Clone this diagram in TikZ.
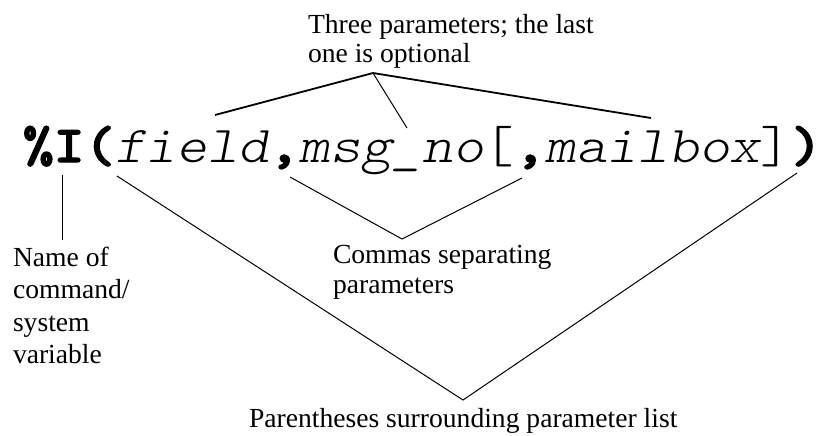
\documentclass[tikz,border=0pt]{standalone}
\usepackage{fontspec}
\setmainfont{Liberation Serif}
\newfontfamily\codefont{lmmonolt10-regular.otf}[FakeStretch=1.13]
\newfontfamily\codeboldfont{lmmonolt10-bold.otf}[FakeStretch=1.13, FakeBold=2.5]
\newfontfamily\codeitfont{lmmonolt10-oblique.otf}[FakeStretch=1.13]
\usetikzlibrary{positioning}

\tikzset{
  code/.style={inner sep=0pt, outer sep=0pt, anchor=base west,
    font=\codefont\fontsize{25.9}{30}\selectfont},
  codebf/.style={code, font=\codeboldfont\fontsize{25.9}{30}\selectfont},
  codeit/.style={code, font=\codeitfont\fontsize{25.9}{30}\selectfont},
  note/.style={inner sep=0pt, outer sep=0pt, anchor=north west, align=left},
  lead/.style={line width=0.5pt},
  leadbold/.style={line width=0.9pt},
}

\begin{document}
\begin{tikzpicture}[x=0.5pt, y=-0.5pt]
  \useasboundingbox (0,0) rectangle (823,435);

  % the command line
  \node [codebf] (pct) at (23,162) {\%I};
  \node [codebf] (lpar) at (pct.base east) {(};
  \node [codeit] (field) at (lpar.base east) {field};
  \node [codebf] (comma1) at (field.base east) {,};
  \node [codeit] (msgno) at (comma1.base east) {msg\_no};
  \node [code] (lbrack) at (msgno.base east) {[};
  \node [codebf] (comma2) at (lbrack.base east) {,};
  \node [codeit] (mailbox) at (comma2.base east) {mailbox};
  \node [code] (rbrack) at (mailbox.base east) {]};
  \node [codebf] (rpar) at (rbrack.base east) {)};

  % labels
  \node [note, font=\fontsize{13.8}{14.5}\selectfont] (three) at (308,14)
    {Three parameters; the last\\one is optional};
  \node [note, font=\fontsize{13.8}{16.2}\selectfont] (name) at (13,247)
    {Name of\\command/\\system\\variable};
  \node [note, font=\fontsize{13.8}{15}\selectfont] (commas) at (333,245)
    {Commas separating\\parameters};
  \node [note, font=\fontsize{13.8}{15}\selectfont] (parens) at (249,408)
    {Parentheses surrounding parameter list};

  % fork ends
  \coordinate (threeTip) at (373,73);
  \coordinate (threeA) at (215,115);
  \coordinate (threeB) at (407,128);
  \coordinate (threeC) at (651,118);
  \coordinate (nameA) at (62,175);
  \coordinate (nameB) at (62,240);
  \coordinate (commaA) at (290,177);
  \coordinate (commaTip) at (402,239);
  \coordinate (commaB) at (522,178);
  \coordinate (parenA) at (117,176);
  \coordinate (parenTip) at (463,400);
  \coordinate (parenB) at (797,173);

  % leader lines
  \draw [leadbold] (threeA) -- (threeTip) -- (threeC);
  \draw [lead] (threeTip) -- (threeB);
  \draw [lead] (nameA) -- (nameB);
  \draw [lead] (commaA) -- (commaTip) -- (commaB);
  \draw [lead] (parenA) -- (parenTip) -- (parenB);
\end{tikzpicture}
\end{document}
